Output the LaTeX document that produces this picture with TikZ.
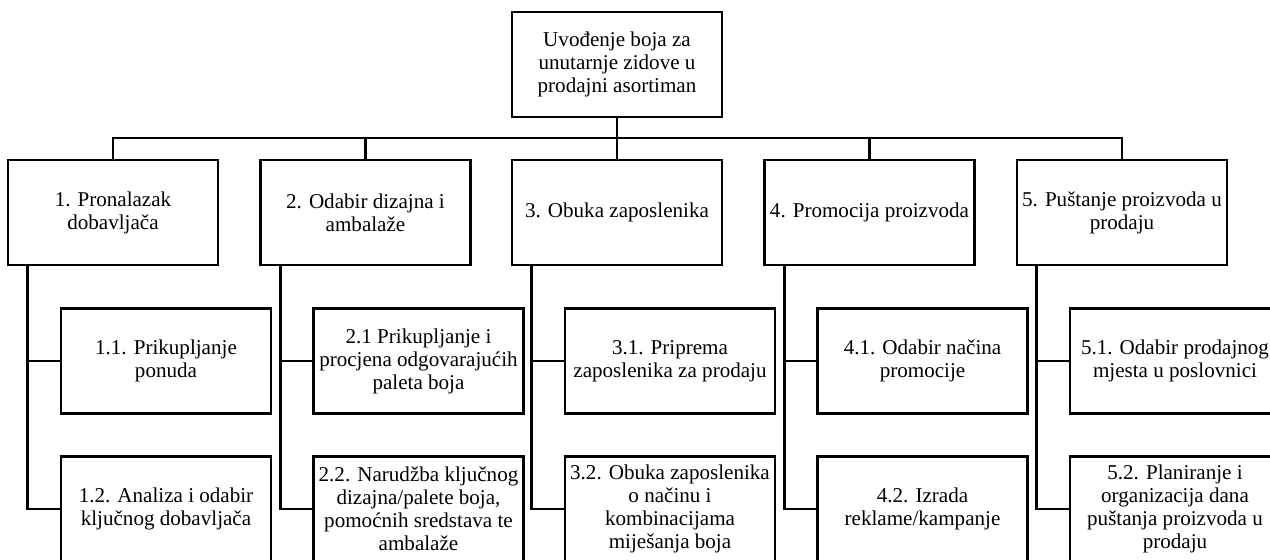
\documentclass[tikz,border=0pt]{standalone}
\usepackage{fontspec}
\setmainfont{Liberation Serif}
\usetikzlibrary{positioning,calc}

\begin{document}
\begin{tikzpicture}[x=0.02cm,y=-0.02cm,
    task/.style={draw,line width=1.6pt,minimum width=4.2cm,minimum height=2.1cm,
        inner sep=1pt,align=center,font=\fontsize{12}{13.1}\selectfont},
    link/.style={line width=1.6pt}]

\useasboundingbox (0,0) rectangle (1270,559);
\clip (0,0) rectangle (1270,559);

\node[task] (root) at (617,64.5) {Uvođenje boja za\\unutarnje zidove u\\prodajni asortiman};

\node[task] (p1) at (113,212.5) {1. Pronalazak\\dobavljača};
\node[task] (p2) at (365.5,212.5) {2. Odabir dizajna i\\ambalaže};
\node[task] (p3) at (617,212.5) {3. Obuka zaposlenika};
\node[task] (p4) at (869.5,212.5) {4. Promocija proizvoda};
\node[task] (p5) at (1122,212.5) {5. Puštanje proizvoda u\\prodaju};

\node[task] (c11) at (166,361) {1.1. Prikupljanje\\ponuda};
\node[task] (c12) at (166,509) {1.2. Analiza i odabir\\ključnog dobavljača};
\node[task] (c21) at (418.5,361) {2.1 Prikupljanje i\\procjena odgovarajućih\\paleta boja};
\node[task] (c22) at (418.5,509) {2.2. Narudžba ključnog\\dizajna/palete boja,\\pomoćnih sredstava te\\ambalaže};
\node[task] (c31) at (670,361) {3.1. Priprema\\zaposlenika za prodaju};
\node[task] (c32) at (670,509) {3.2. Obuka zaposlenika\\o načinu i\\kombinacijama\\miješanja boja};
\node[task] (c41) at (922.5,361) {4.1. Odabir načina\\promocije};
\node[task] (c42) at (922.5,509) {4.2. Izrada\\reklame/kampanje};
\node[task] (c51) at (1175,361) {5.1. Odabir prodajnog\\mjesta u poslovnici};
\node[task] (c52) at (1175,509) {5.2. Planiranje i\\organizacija dana\\puštanja proizvoda u\\prodaju};

% top level
\coordinate (bus) at (617,138);
\draw[link] (root.south) -- (bus);
\draw[link] (p1.north) |- (bus);
\draw[link] (p2.north) |- (bus);
\draw[link] (p3.north) -- (bus);
\draw[link] (p4.north) |- (bus);
\draw[link] (p5.north) |- (bus);

% sub tasks
\draw[link] ($(p1.south west)+(21,0)$) |- (c11.west);
\draw[link] ($(p1.south west)+(21,0)$) |- (c12.west);
\draw[link] ($(p2.south west)+(21,0)$) |- (c21.west);
\draw[link] ($(p2.south west)+(21,0)$) |- (c22.west);
\draw[link] ($(p3.south west)+(21,0)$) |- (c31.west);
\draw[link] ($(p3.south west)+(21,0)$) |- (c32.west);
\draw[link] ($(p4.south west)+(21,0)$) |- (c41.west);
\draw[link] ($(p4.south west)+(21,0)$) |- (c42.west);
\draw[link] ($(p5.south west)+(21,0)$) |- (c51.west);
\draw[link] ($(p5.south west)+(21,0)$) |- (c52.west);

\end{tikzpicture}
\end{document}
